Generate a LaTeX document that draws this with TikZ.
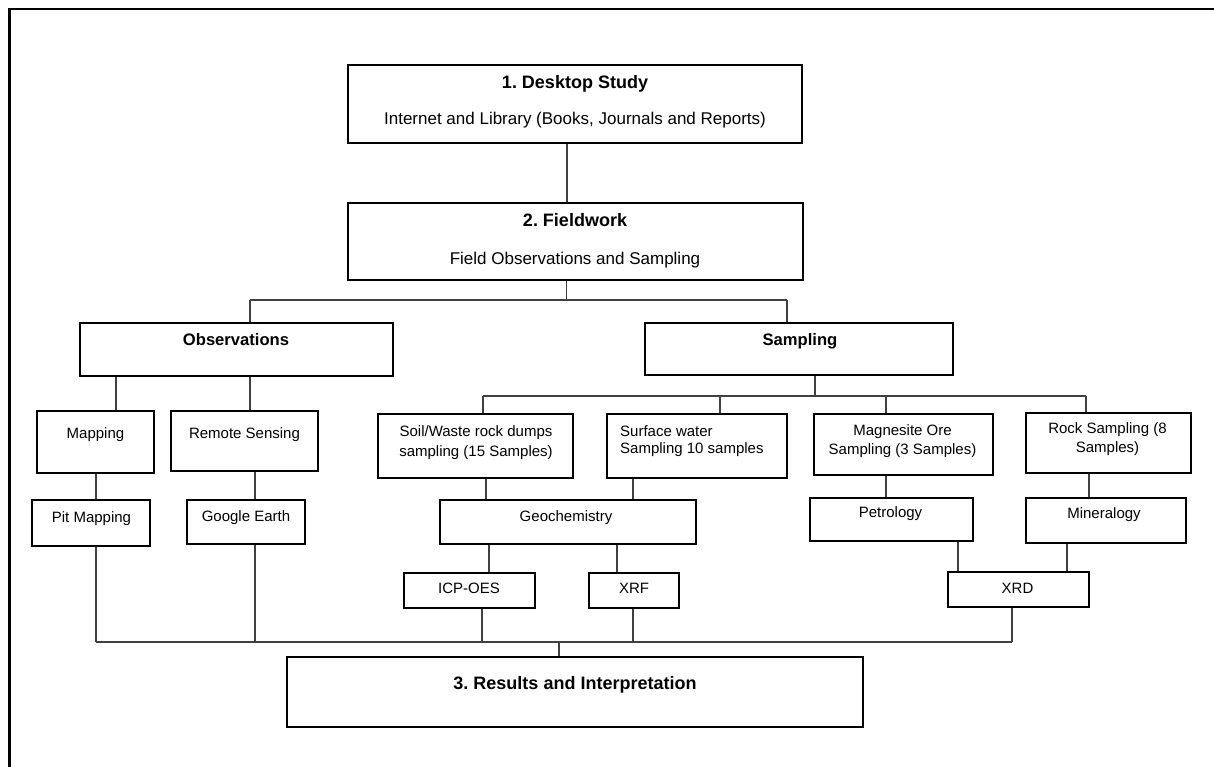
\documentclass[tikz,border=0pt]{standalone}
\usepackage{fontspec}
\setmainfont{Liberation Sans}
\usetikzlibrary{fit}
\frenchspacing
\begin{document}
\begin{tikzpicture}[x=1pt,y=-1pt,
  box/.style={draw=black, line width=2.8pt, inner sep=0pt},
  conn/.style={draw=black!75, line width=1.1pt},
  frame/.style={draw=black, line width=2.8pt},
  ttl/.style={font=\fontsize{18}{20}\selectfont\bfseries, anchor=base, inner sep=0pt},
  sub/.style={font=\fontsize{17}{20}\selectfont, anchor=base, inner sep=0pt},
  hd/.style={font=\fontsize{16.6}{19}\selectfont\bfseries, anchor=base, inner sep=0pt},
  lbl/.style={font=\fontsize{15}{18}\selectfont, anchor=base, inner sep=0pt},
  lbll/.style={font=\fontsize{15}{18}\selectfont, anchor=base west, inner sep=0pt}
]
\useasboundingbox (0,0) rectangle (1214,767);
% outer frame (only top and left edges visible)
\coordinate (fbl) at (9.3,767);
\coordinate (ftl) at (9.3,9);
\coordinate (ftr) at (1214,9);
\draw[frame] (fbl) -- (ftl) -- (ftr);

% boxes
\node[box, fit={(348,65) (802,143)}] (desk) {};
\node[box, fit={(348,203) (803,280)}] (field) {};
\node[box, fit={(80,323) (393,376)}] (obs) {};
\node[box, fit={(645,323) (953,375)}] (samp) {};
\node[box, fit={(37,411) (154,473)}] (map) {};
\node[box, fit={(171,411) (318,471)}] (rem) {};
\node[box, fit={(32,500) (150,546)}] (pit) {};
\node[box, fit={(187,500) (305,544)}] (goog) {};
\node[box, fit={(378,414) (573,478)}] (soil) {};
\node[box, fit={(607,414) (787,478)}] (surf) {};
\node[box, fit={(814,414) (993,475)}] (mag) {};
\node[box, fit={(1026,413) (1191,473)}] (rock) {};
\node[box, fit={(440,500) (696,544)}] (geo) {};
\node[box, fit={(810,498) (973,541)}] (pet) {};
\node[box, fit={(1026,498) (1186,543)}] (min) {};
\node[box, fit={(404,573) (535,608)}] (icp) {};
\node[box, fit={(589,573) (679,608)}] (xrf) {};
\node[box, fit={(948,572) (1089,607)}] (xrd) {};
\node[box, fit={(287,657) (863,727)}] (res) {};

% texts
\node[ttl] (tdesk) at (575,89) {1. Desktop Study};
\node[sub] (sdesk) at (575,125) {Internet and Library (Books, Journals and Reports)};
\node[ttl] (tfield) at (575,226) {2. Fieldwork};
\node[sub] (sfield) at (575,264) {Field Observations and Sampling};
\node[hd] (tobs) at (236,345.5) {Observations};
\node[hd] (tsamp) at (800,345) {Sampling};
\node[lbl] (tmap) at (95.5,438) {Mapping};
\node[lbl] (trem) at (244.5,438) {Remote Sensing};
\node[lbl] (tpit) at (91.5,522) {Pit Mapping};
\node[lbl] (tgoog) at (246,521) {Google Earth};
\node[lbl] (tsoil1) at (476,436) {Soil/Waste rock dumps};
\node[lbl] (tsoil2) at (476,456) {sampling (15 Samples)};
\node[lbll] (tsurf1) at (620,436) {Surface water};
\node[lbll] (tsurf2) at (620,453) {Sampling 10 samples};
\node[lbl] (tmag1) at (902.5,435) {Magnesite Ore};
\node[lbl] (tmag2) at (902.5,454) {Sampling (3 Samples)};
\node[lbl] (trock1) at (1107.5,433) {Rock Sampling (8};
\node[lbl] (trock2) at (1107.5,452) {Samples)};
\node[lbl] (tgeo) at (566,521) {Geochemistry};
\node[lbl] (tpet) at (890.5,517) {Petrology};
\node[lbl] (tmin) at (1104,518) {Mineralogy};
\node[lbl] (ticp) at (469,593) {ICP-OES};
\node[lbl] (txrf) at (634,593) {XRF};
\node[lbl] (txrd) at (1017.5,593) {XRD};
\node[ttl] (tres) at (575,689) {3. Results and Interpretation};

% junction coordinates
\coordinate (jf) at (566.5,300);
\coordinate (jfl) at (250,300);
\coordinate (jfr) at (787,300);
\coordinate (js) at (815,396);
\coordinate (jsl) at (483,396);
\coordinate (jsr) at (1086,396);
\coordinate (jb) at (559,642);
\coordinate (jbl) at (96,642);
\coordinate (jbr) at (1012,642);

% connectors
\draw[conn] (567,0 |- desk.south) -- (567,0 |- field.north);
\draw[conn] (jf |- field.south) -- (jf);
\draw[conn] (jfl) -- (jfr);
\draw[conn] (jfl) -- (jfl |- obs.north);
\draw[conn] (jfr) -- (jfr |- samp.north);
\draw[conn] (116,0 |- obs.south) -- (116,0 |- map.north);
\draw[conn] (250,0 |- obs.south) -- (250,0 |- rem.north);
\draw[conn] (96,0 |- map.south) -- (96,0 |- pit.north);
\draw[conn] (255,0 |- rem.south) -- (255,0 |- goog.north);

\draw[conn] (js |- samp.south) -- (js);
\draw[conn] (jsl) -- (jsr);
\draw[conn] (jsl) -- (jsl |- soil.north);
\draw[conn] (720,396) -- (720,0 |- surf.north);
\draw[conn] (886,396) -- (886,0 |- mag.north);
\draw[conn] (jsr) -- (jsr |- rock.north);

\draw[conn] (486,0 |- soil.south) -- (486,0 |- geo.north);
\draw[conn] (633,0 |- surf.south) -- (633,0 |- geo.north);
\draw[conn] (489,0 |- geo.south) -- (489,0 |- icp.north);
\draw[conn] (617,0 |- geo.south) -- (617,0 |- xrf.north);
\draw[conn] (886,0 |- mag.south) -- (886,0 |- pet.north);
\draw[conn] (1089,0 |- rock.south) -- (1089,0 |- min.north);
\draw[conn] (958,0 |- pet.south) -- (958,0 |- xrd.north);
\draw[conn] (1067,0 |- min.south) -- (1067,0 |- xrd.north);

\draw[conn] (jbl |- pit.south) -- (jbl);
\draw[conn] (255,0 |- goog.south) -- (255,642);
\draw[conn] (482,0 |- icp.south) -- (482,642);
\draw[conn] (633,0 |- xrf.south) -- (633,642);
\draw[conn] (jbr |- xrd.south) -- (jbr);
\draw[conn] (jbl) -- (jbr);
\draw[conn] (jb) -- (jb |- res.north);
\end{tikzpicture}
\end{document}
